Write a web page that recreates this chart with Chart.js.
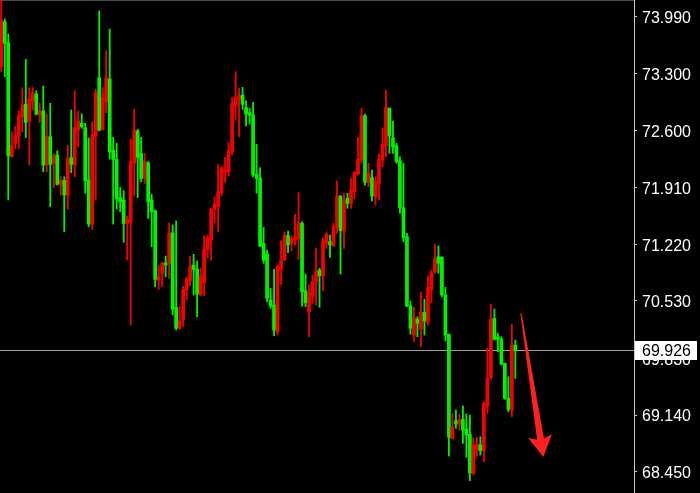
<!DOCTYPE html>
<html lang="en">
<head>
<meta charset="utf-8">
<title>Price candles</title>
<style>
  * { margin: 0; padding: 0; box-sizing: border-box; }
  body { background: #000; width: 700px; height: 493px; overflow: hidden; }
  #chart { display: block; }
</style>
</head>
<body>
<canvas id="chart" width="700" height="493"></canvas>
<script src="https://cdn.jsdelivr.net/npm/chart.js@4.4.1/dist/chart.umd.min.js"></script>
<script>
// OHLC, one value per bar, oldest first
const opens = [
  73.380, 73.928, 73.673, 72.285, 72.448, 72.537, 72.773, 72.923, 72.723, 72.963,
  73.048, 72.793, 72.842, 72.184, 72.528, 72.205, 72.306, 71.949, 71.997, 71.819,
  72.273, 72.184, 72.610, 72.692, 72.638, 72.001, 71.465, 72.537, 73.247, 72.619,
  72.954, 73.231, 72.367, 72.253, 71.786, 71.758, 71.474, 71.494, 72.205, 72.598,
  72.326, 72.022, 72.212, 71.758, 71.627, 70.784, 70.865, 70.994, 70.987, 71.360,
  70.451, 70.196, 70.305, 70.662, 70.775, 70.966, 70.918, 70.601, 70.751, 71.157,
  71.271, 71.645, 71.676, 71.847, 72.098, 72.102, 72.346, 72.906, 72.984, 73.036,
  72.882, 72.821, 72.793, 72.071, 72.022, 71.231, 71.100, 70.540, 70.479, 70.154,
  70.906, 71.027, 71.323, 71.231, 71.271, 71.292, 71.474, 70.653, 70.398, 70.589,
  70.763, 70.906, 70.832, 71.238, 71.250, 71.201, 71.426, 71.807, 71.380, 71.778,
  71.717, 71.859, 72.074, 72.245, 72.784, 71.973, 72.029, 71.798, 71.961, 72.245,
  72.419, 72.875, 72.516, 72.419, 72.233, 71.664, 71.311, 70.467, 70.114, 70.305,
  70.184, 70.391, 70.269, 70.670, 70.885, 71.067, 71.060, 70.601, 70.123, 68.856,
  69.070, 69.030, 69.088, 68.969, 68.905, 68.430, 68.722, 68.775, 68.705, 69.250,
  69.594, 70.317, 70.093, 70.065, 69.769, 69.343, 69.201, 69.992
];
const highs = [
  74.250, 73.961, 73.779, 72.586, 72.659, 72.842, 73.125, 73.470, 73.125, 73.125,
  73.088, 72.942, 73.146, 72.805, 72.935, 72.326, 72.358, 72.041, 72.041, 72.423,
  72.854, 73.088, 72.842, 72.805, 72.692, 72.513, 72.711, 73.106, 74.059, 73.125,
  73.575, 73.840, 72.521, 72.448, 71.913, 71.871, 71.563, 72.497, 72.862, 72.619,
  72.521, 72.326, 72.224, 71.827, 71.636, 70.958, 70.999, 71.076, 71.481, 71.453,
  71.502, 70.459, 70.711, 70.824, 71.076, 71.097, 71.015, 70.927, 71.320, 71.332,
  71.657, 71.798, 72.192, 72.163, 72.278, 72.456, 73.008, 73.320, 73.118, 73.130,
  72.966, 72.875, 72.947, 72.436, 72.151, 71.426, 71.149, 70.683, 70.914, 70.966,
  71.259, 71.365, 71.380, 71.320, 71.584, 71.847, 71.494, 70.857, 70.723, 70.845,
  71.170, 70.927, 71.299, 71.360, 71.332, 71.474, 71.989, 71.810, 71.840, 71.840,
  72.022, 72.111, 72.521, 72.875, 72.805, 72.205, 72.123, 72.041, 72.318, 72.638,
  73.097, 72.880, 72.720, 72.448, 72.285, 72.205, 71.353, 70.528, 70.451, 70.337,
  70.634, 70.549, 70.832, 70.906, 71.218, 71.198, 71.067, 70.695, 70.127, 69.161,
  69.201, 69.152, 69.250, 69.152, 69.140, 68.864, 68.869, 68.876, 69.302, 69.952,
  70.492, 70.431, 70.135, 70.093, 69.773, 69.606, 70.248, 70.053
];
const lows = [
  73.317, 73.259, 71.758, 72.280, 72.379, 72.379, 72.589, 72.516, 72.184, 72.854,
  72.793, 72.699, 72.102, 72.102, 71.676, 71.908, 71.940, 71.819, 71.372, 71.648,
  72.090, 72.041, 72.407, 72.631, 71.840, 71.433, 71.401, 71.758, 72.598, 72.610,
  72.821, 72.257, 71.465, 71.648, 71.615, 71.243, 71.027, 70.236, 71.807, 71.786,
  71.981, 71.961, 71.535, 71.189, 70.702, 70.670, 70.702, 70.824, 70.804, 70.358,
  70.175, 70.184, 70.215, 70.540, 70.711, 70.601, 70.337, 70.598, 70.593, 71.048,
  71.027, 71.486, 71.372, 71.807, 71.973, 72.050, 72.306, 72.732, 72.528, 72.862,
  72.659, 72.683, 72.041, 71.840, 71.189, 70.987, 70.519, 70.439, 70.106, 70.114,
  70.731, 71.020, 71.116, 71.137, 71.210, 71.036, 70.467, 70.459, 70.093, 70.500,
  70.479, 70.451, 70.654, 71.170, 71.060, 71.189, 71.353, 70.857, 71.170, 71.657,
  71.657, 71.770, 72.062, 72.205, 71.940, 71.920, 71.746, 71.697, 71.758, 72.163,
  72.285, 72.326, 72.326, 72.205, 71.596, 71.250, 70.459, 70.123, 70.032, 70.093,
  69.972, 70.114, 70.236, 70.507, 70.865, 70.865, 70.580, 70.041, 68.641, 68.848,
  68.978, 68.957, 68.795, 68.625, 68.340, 68.409, 68.641, 68.653, 68.571, 69.161,
  69.575, 70.053, 69.911, 69.749, 69.331, 69.180, 69.119, 69.587
];
const closes = [
  73.940, 73.666, 72.294, 72.419, 72.540, 72.781, 72.914, 72.704, 72.987, 73.064,
  72.805, 72.842, 72.184, 72.528, 72.192, 72.297, 71.949, 72.001, 71.819, 72.261,
  72.192, 72.638, 72.720, 72.651, 71.989, 71.465, 72.549, 73.064, 72.610, 73.003,
  73.247, 72.346, 72.253, 71.770, 71.737, 71.474, 71.523, 72.224, 72.610, 72.278,
  72.022, 72.233, 71.737, 71.615, 70.792, 70.824, 70.987, 70.966, 71.353, 70.427,
  70.196, 70.285, 70.671, 70.796, 70.954, 70.914, 70.613, 70.824, 71.161, 71.299,
  71.645, 71.706, 71.859, 72.151, 72.123, 72.358, 72.927, 73.003, 73.028, 72.923,
  72.805, 72.789, 72.062, 72.022, 71.198, 71.027, 70.561, 70.467, 70.175, 70.946,
  71.027, 71.332, 71.210, 71.292, 71.299, 71.481, 70.641, 70.507, 70.629, 70.763,
  70.893, 70.836, 71.259, 71.340, 71.210, 71.433, 71.807, 71.384, 71.758, 71.717,
  71.880, 72.095, 72.257, 72.784, 71.973, 72.083, 71.810, 71.981, 72.253, 72.436,
  72.887, 72.537, 72.407, 72.224, 71.664, 71.299, 70.467, 70.196, 70.325, 70.257,
  70.391, 70.285, 70.695, 70.873, 71.048, 70.987, 70.601, 70.114, 68.868, 68.997,
  69.030, 69.079, 68.957, 68.896, 68.437, 68.775, 68.783, 68.705, 69.282, 69.587,
  70.309, 70.062, 70.062, 69.761, 69.343, 69.209, 69.992, 69.926
];

const priceTicks = [68.45, 69.14, 69.83, 70.53, 71.22, 71.91, 72.6, 73.3, 73.99];
const lastPrice = 69.926;
// hand drawn arrow, bar index / price
const arrowFrom = { x: 148.6, y: 70.38 };
const arrowTo = { x: 155.0, y: 68.63 };

const upBody = "#ff0000", downBody = "#00ff00";
const upWick = "#f00000", downWick = "#00ee00";
const isUp = (i) => closes[i] >= opens[i];

const wickData = highs.map((h, i) => ({ x: i, y: [lows[i], h] }));
const bodyData = opens.map((o, i) => ({ x: i, y: [o, closes[i]] }));

const overlay = {
  id: "overlay",
  beforeDraw(chart) {
    const { ctx, chartArea: a } = chart;
    ctx.save();
    ctx.fillStyle = "#000";
    ctx.fillRect(0, 0, chart.width, chart.height);
    ctx.strokeStyle = "#4a4a4a";
    ctx.beginPath();
    ctx.moveTo(0, 0.5);
    ctx.lineTo(a.right, 0.5);
    ctx.stroke();
    ctx.restore();
  },
  beforeDatasetsDraw(chart) {
    const { ctx, chartArea: a, scales } = chart;
    const y = Math.round(scales.y.getPixelForValue(lastPrice)) + 0.5;
    ctx.save();
    ctx.strokeStyle = "#a0a0a0";
    ctx.lineWidth = 1;
    ctx.beginPath();
    ctx.moveTo(a.left, y);
    ctx.lineTo(a.right, y);
    ctx.stroke();
    ctx.restore();
  },
  afterDatasetsDraw(chart) {
    const { ctx, scales } = chart;
    const x0 = scales.x.getPixelForValue(arrowFrom.x), y0 = scales.y.getPixelForValue(arrowFrom.y);
    const x1 = scales.x.getPixelForValue(arrowTo.x), y1 = scales.y.getPixelForValue(arrowTo.y);
    const len = Math.hypot(x1 - x0, y1 - y0);
    const dx = (x1 - x0) / len, dy = (y1 - y0) / len;
    const nx = dy, ny = -dx;
    const headLen = 21, headHalf = 12, tailHalf = 0.6, neckHalf = 3.5;
    const bx = x1 - dx * headLen, by = y1 - dy * headLen;
    ctx.save();
    ctx.fillStyle = "#ff2020";
    ctx.beginPath();
    ctx.moveTo(x0 + nx * tailHalf, y0 + ny * tailHalf);
    ctx.lineTo(bx + nx * neckHalf + dx * 3, by + ny * neckHalf + dy * 3);
    ctx.lineTo(bx + nx * headHalf, by + ny * headHalf);
    ctx.lineTo(x1, y1);
    ctx.lineTo(bx - nx * headHalf, by - ny * headHalf);
    ctx.lineTo(bx - nx * neckHalf + dx * 3, by - ny * neckHalf + dy * 3);
    ctx.lineTo(x0 - nx * tailHalf, y0 - ny * tailHalf);
    ctx.closePath();
    ctx.fill();
    ctx.restore();
  },
  afterDraw(chart) {
    const { ctx, chartArea: a, scales } = chart;
    const y = Math.round(scales.y.getPixelForValue(lastPrice));
    ctx.save();
    ctx.fillStyle = "#fff";
    ctx.fillRect(a.right + 1, y - 9, 62, 19);
    ctx.fillStyle = "#000";
    ctx.font = "16px 'Liberation Sans'";
    ctx.textBaseline = "middle";
    ctx.fillText(lastPrice.toFixed(3), a.right + 8, y + 2);
    ctx.restore();
  }
};

new Chart(document.getElementById("chart"), {
  type: "bar",
  plugins: [overlay],
  data: {
    datasets: [
      {
        data: wickData,
        grouped: false,
        barThickness: 1.2,
        borderWidth: 0,
        backgroundColor: (c) => (isUp(c.dataIndex) ? upWick : downWick),
      },
      {
        data: bodyData,
        grouped: false,
        barThickness: 3,
        borderWidth: 0,
        backgroundColor: (c) => (isUp(c.dataIndex) ? upBody : downBody),
      },
    ],
  },
  options: {
    responsive: false,
    animation: false,
    layout: { padding: 0 },
    plugins: { legend: { display: false }, tooltip: { enabled: false } },
    scales: {
      x: {
        type: "linear",
        display: false,
        offset: false,
        min: -0.372,
        max: 180.93,
      },
      y: {
        position: "right",
        min: 68.191,
        max: 74.193,
        afterFit: (s) => {
          s.width = 66;
          s.paddingTop = 0;
          s.paddingBottom = 0;
        },
        afterBuildTicks: (s) => { s.ticks = priceTicks.map((v) => ({ value: v })); },
        grid: { drawOnChartArea: false, color: "#c8c8c8", tickLength: 3 },
        border: { color: "#c8c8c8" },
        ticks: {
          color: "#ffffff",
          font: { family: "Liberation Sans", size: 16 },
          padding: 5,
          autoSkip: false,
          labelOffset: 2,
          callback: (v) => Number(v).toFixed(3),
        },
      },
    },
  },
});
</script>
</body>
</html>
